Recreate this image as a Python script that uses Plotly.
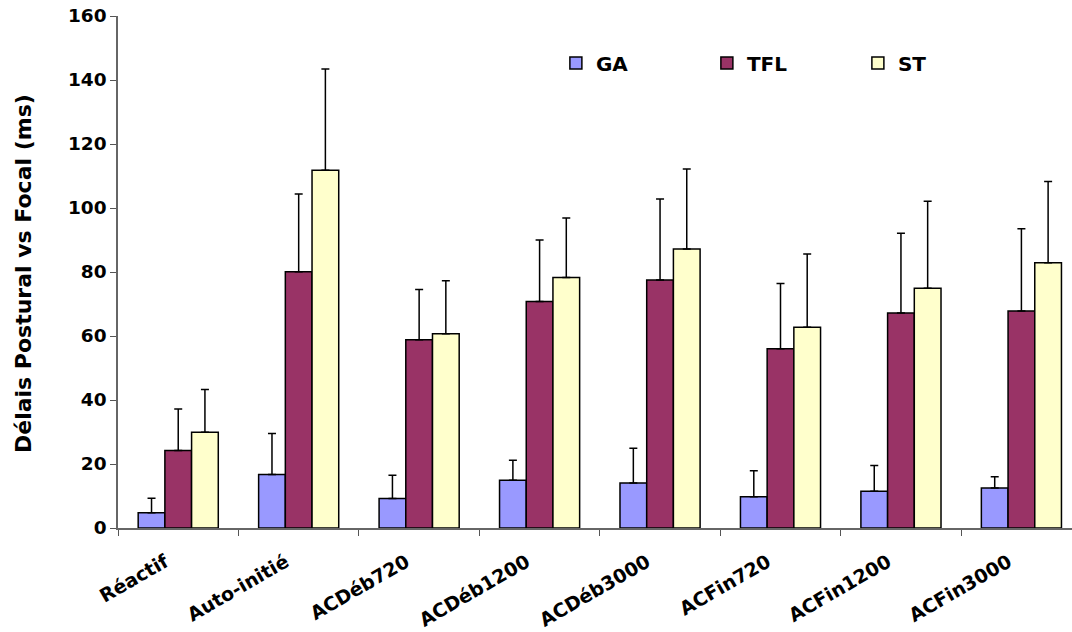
import plotly.graph_objects as go

categories = ["Réactif", "Auto-initié", "ACDéb720", "ACDéb1200", "ACDéb3000", "ACFin720", "ACFin1200", "ACFin3000"]
ga = [4.8, 16.7, 9.2, 14.9, 14.1, 9.8, 11.5, 12.5]
ga_err = [4.5, 12.8, 7.3, 6.3, 10.8, 8.1, 8.0, 3.5]
tfl = [24.2, 80.1, 58.8, 70.8, 77.5, 56.0, 67.2, 67.8]
tfl_err = [13.0, 24.3, 15.7, 19.2, 25.3, 20.4, 24.9, 25.7]
st = [29.9, 111.8, 60.7, 78.3, 87.2, 62.7, 74.9, 82.9]
st_err = [13.4, 31.6, 16.6, 18.6, 25.0, 22.9, 27.2, 25.4]
series_names = ["GA", "TFL", "ST"]
colors = ["#9999FF", "#993366", "#FFFFCC"]
y_title = "Délais Postural vs Focal (ms)"

FONT = "DejaVu Sans, Arial, sans-serif"

fig = go.Figure()
for name, vals, errs, col in zip(series_names, [ga, tfl, st], [ga_err, tfl_err, st_err], colors):
    fig.add_trace(go.Bar(
        name=name, x=categories, y=vals,
        marker=dict(color=col, line=dict(color="black", width=1.5)),
        error_y=dict(type="data", array=errs, symmetric=False, arrayminus=[0] * len(errs),
                     color="black", thickness=1.5, width=4),
    ))

fig.update_layout(
    width=1072, height=632,
    barmode="group", bargap=0.335, bargroupgap=0,
    plot_bgcolor="white", paper_bgcolor="white",
    margin=dict(l=118, r=0, t=16, b=104),
    font=dict(family=FONT, color="black"),
    legend=dict(orientation="h", x=0.459, y=0.908, xanchor="left", yanchor="middle",
                font=dict(size=20, family=FONT, weight="bold"),
                entrywidth=106, entrywidthmode="pixels", bgcolor="rgba(0,0,0,0)"),
    xaxis=dict(
        range=[-0.5, 7.42], tickson="boundaries", ticks="outside", ticklen=6,
        tickcolor="#555", showline=True, linecolor="#666", linewidth=1.5,
        tickangle=-30, tickfont=dict(size=19, family=FONT, weight="bold"),
        ticklabelshift=-13, ticklabelstandoff=14,
        showgrid=False, automargin=False,
    ),
    yaxis=dict(
        range=[0, 160], dtick=20, ticks="outside", ticklen=6, tickcolor="#555",
        showline=True, linecolor="#666", linewidth=1.5, showgrid=False, zeroline=False,
        tickfont=dict(size=18.5, family=FONT, weight="bold"), automargin=False,
    ),
    annotations=[dict(
        text=y_title, textangle=-90, xref="paper", yref="paper",
        x=-0.0996, y=0.498, xanchor="center", yanchor="middle", showarrow=False,
        font=dict(size=22, family=FONT, weight="bold"),
    )],
)

fig.write_html("out.html", config={"displayModeBar": False},
               post_script="document.body.style.margin='0';")
